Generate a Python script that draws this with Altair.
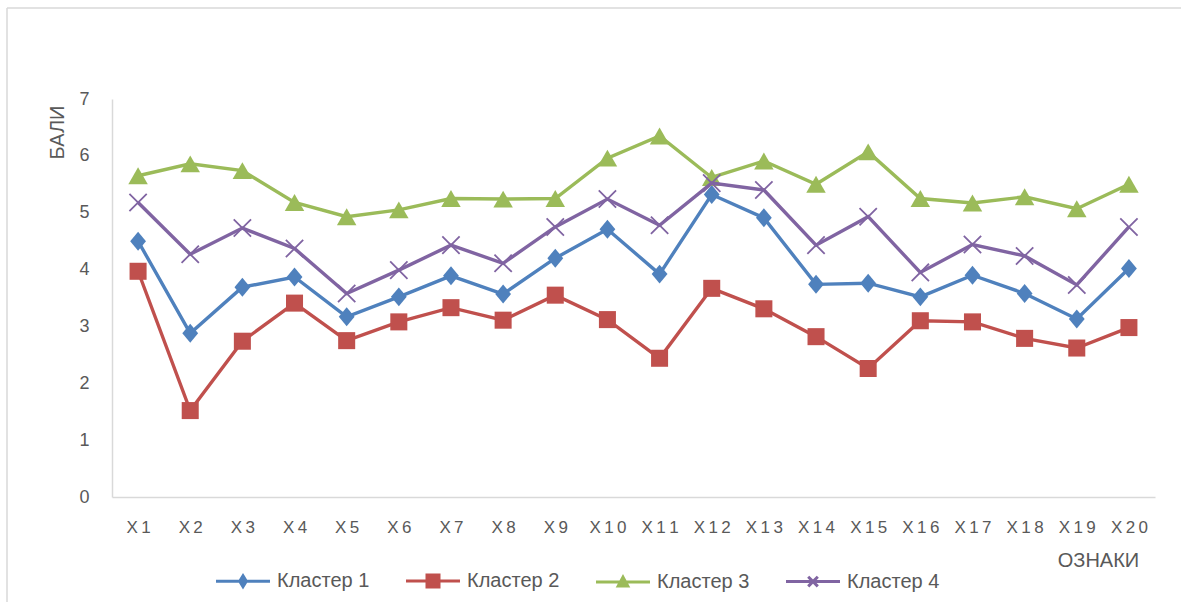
import altair as alt
import pandas as pd

# Feature codes along the x axis
features = ["X1", "X2", "X3", "X4", "X5", "X6", "X7", "X8", "X9", "X10",
            "X11", "X12", "X13", "X14", "X15", "X16", "X17", "X18", "X19", "X20"]

series_names = ["Кластер 1", "Кластер 2", "Кластер 3", "Кластер 4"]

# Mean scores per feature for each cluster
cluster1 = [4.50, 2.88, 3.69, 3.87, 3.17, 3.52, 3.89, 3.57, 4.20, 4.71,
            3.92, 5.32, 4.91, 3.74, 3.76, 3.52, 3.90, 3.58, 3.13, 4.02]
cluster2 = [3.97, 1.52, 2.74, 3.41, 2.75, 3.08, 3.33, 3.11, 3.55, 3.12,
            2.44, 3.67, 3.31, 2.82, 2.26, 3.10, 3.08, 2.79, 2.62, 2.98]
cluster3 = [5.65, 5.86, 5.74, 5.18, 4.93, 5.05, 5.25, 5.24, 5.25, 5.96,
            6.35, 5.62, 5.91, 5.50, 6.07, 5.25, 5.17, 5.28, 5.07, 5.50]
cluster4 = [5.18, 4.27, 4.73, 4.37, 3.58, 3.99, 4.43, 4.11, 4.75, 5.24,
            4.78, 5.52, 5.40, 4.43, 4.93, 3.95, 4.44, 4.24, 3.73, 4.75]

colors = ["#4F81BD", "#C0504D", "#9BBB59", "#8064A2"]

# Marker style per series: (shape, size, filled, strokeWidth)
markers = [
    ("M0,-1.2L1,0L0,1.2L-1,0Z", 250, True, 0),
    ("square", 290, True, 0),
    ("triangle-up", 380, True, 0),
    ("M-1,-1L1,1M-1,1L1,-1", 300, False, 1.8),
]

# Legend glyphs: a short line segment with the series marker in its middle
legend_glyphs = [
    "M0,0H18M9,-1.8L10.1,0L9,1.8L7.9,0Z",
    "M0,0H18M7,-2H11V2H7Z",
    "M0,0H18M9,-1.6L10.6,1.4L7.4,1.4Z",
    "M0,0H18M7.4,-1.6L10.6,1.6M7.4,1.6L10.6,-1.6",
]

rows = []
for name, vals in zip(series_names, [cluster1, cluster2, cluster3, cluster4]):
    for f, v in zip(features, vals):
        rows.append({"feature": f, "series": name, "value": v})
df = pd.DataFrame(rows)

FONT = "Liberation Sans"
TEXT = "#595959"
GRID = "#D9D9D9"

x_axis = alt.Axis(
    labelAngle=0, labelFontSize=17, labelColor=TEXT, labelFont=FONT,
    labelExpr="join(split(datum.label, ''), '\u2009')",
    labelBaseline="alphabetic", labelPadding=35,
    ticks=False, tickSize=0, grid=False,
    domainColor=GRID, domainWidth=1.5,
    titleFontSize=20, titleFontWeight="normal", titleColor=TEXT, titleFont=FONT,
    titleX=986, titleY=69, titleAlign="center", titleBaseline="alphabetic",
)
y_axis = alt.Axis(
    values=[0, 1, 2, 3, 4, 5, 6, 7],
    labelFontSize=18, labelColor=TEXT, labelFont=FONT, labelPadding=23,
    ticks=False, tickSize=0, grid=False,
    domainColor=GRID, domainWidth=1.5,
    titleFontSize=20, titleFontWeight="normal", titleColor=TEXT, titleFont=FONT,
    titleAngle=-90, titleX=-49, titleY=6, titleAlign="right",
    titleBaseline="alphabetic",
)

base = alt.Chart(df).encode(
    x=alt.X("feature:N", sort=features, scale=alt.Scale(domain=features),
            axis=x_axis, title="ОЗНАКИ"),
    y=alt.Y("value:Q", scale=alt.Scale(domain=[0, 7]), axis=y_axis, title="БАЛИ"),
)

layers = []
for name, col, (shape, size, filled, sw) in zip(series_names, colors, markers):
    sub = base.transform_filter(alt.datum.series == name)
    layers.append(sub.mark_line(color=col, strokeWidth=3.4))
    pt = dict(shape=shape, size=size, filled=filled, opacity=1, color=col)
    if sw:
        pt["strokeWidth"] = sw
    layers.append(sub.mark_point(**pt))

legend = alt.Legend(
    orient="none", legendX=94, legendY=472, direction="horizontal",
    title=None, symbolSize=36, symbolStrokeWidth=3, symbolOpacity=1,
    labelOffset=51, labelFontSize=20, labelColor=TEXT, labelFont=FONT,
    columnPadding=26, padding=0,
)
legend_layer = base.transform_filter("false").mark_point(filled=True, opacity=1).encode(
    shape=alt.Shape("series:N", scale=alt.Scale(domain=series_names, range=legend_glyphs),
                    legend=legend),
    fill=alt.Fill("series:N", scale=alt.Scale(domain=series_names, range=colors),
                  legend=legend),
    stroke=alt.Stroke("series:N", scale=alt.Scale(domain=series_names, range=colors),
                      legend=legend),
)

# Light outer frame of the chart
one = pd.DataFrame({"k": [0]})
frame_top = alt.Chart(one).mark_rule(color=GRID, strokeWidth=1.5).encode(
    x=alt.value(-105), x2=alt.value(1069), y=alt.value(-91))
frame_left = alt.Chart(one).mark_rule(color=GRID, strokeWidth=1.5).encode(
    x=alt.value(-105), y=alt.value(-91), y2=alt.value(503))

chart = alt.layer(frame_top, frame_left, *layers, legend_layer).properties(
    width=1043, height=398,
    autosize=alt.AutoSizeParams(type="none"),
    padding={"left": 112, "top": 99, "right": 26, "bottom": 105},
    background="white",
).configure_view(stroke=None)

chart.save("out.html", embed_options={"renderer": "svg", "actions": False})
